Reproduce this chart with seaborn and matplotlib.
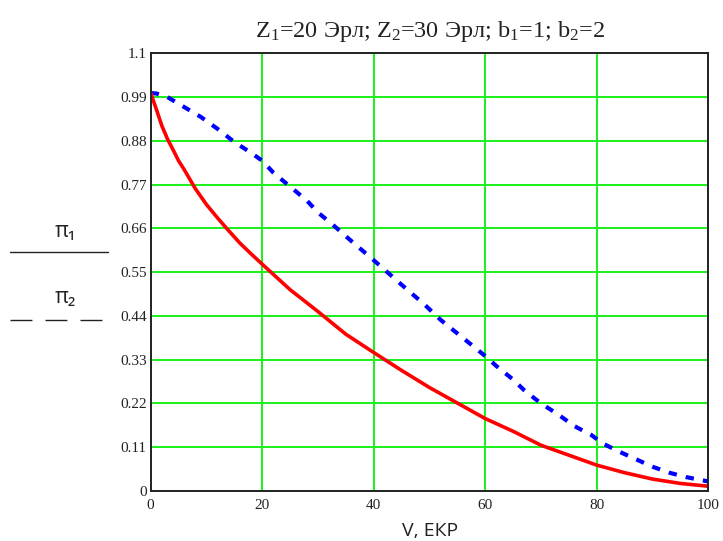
import numpy as np
import pandas as pd
import matplotlib
matplotlib.use("Agg")
import matplotlib.pyplot as plt
from matplotlib.lines import Line2D
import seaborn as sns

# Probability curves vs. number of channel units V
v_pi1 = [0, 1, 2, 3, 4, 5, 6, 8, 10, 12, 14, 16, 18, 20, 25, 30, 35, 40, 45,
         50, 55, 60, 65, 70, 75, 80, 85, 90, 95, 100]
pi1 = [1.0, 0.96, 0.918, 0.885, 0.858, 0.83, 0.808, 0.76, 0.72, 0.686, 0.654,
       0.623, 0.596, 0.57, 0.506, 0.451, 0.394, 0.348, 0.303, 0.26, 0.221,
       0.182, 0.15, 0.115, 0.09, 0.065, 0.046, 0.03, 0.019, 0.012]

v_pi2 = [0, 1, 3, 6, 9, 12, 15, 18, 20, 22, 25, 28, 30, 33, 36, 40, 43, 46, 49,
         52, 55, 58, 60, 62, 65, 67, 70, 73, 76, 79, 81, 84, 87, 90, 93, 96, 100]
pi2 = [1.0, 0.999, 0.99, 0.965, 0.94, 0.91, 0.877, 0.85, 0.83, 0.80, 0.765,
       0.73, 0.70, 0.665, 0.628, 0.58, 0.543, 0.506, 0.47, 0.43, 0.396, 0.362,
       0.339, 0.314, 0.28, 0.253, 0.22, 0.193, 0.163, 0.141, 0.12, 0.099,
       0.08, 0.061, 0.046, 0.035, 0.024]

x_ticks = [0, 20, 40, 60, 80, 100]
y_ticks = [0, 0.11, 0.22, 0.33, 0.44, 0.55, 0.66, 0.77, 0.88, 0.99, 1.1]
y_tick_labels = ["0", "0.11", "0.22", "0.33", "0.44", "0.55", "0.66", "0.77",
                 "0.88", "0.99", "1.1"]

title = r"Z$_1$=20 Эрл; Z$_2$=30 Эрл; b$_1$=1; b$_2$=2"
x_label = "V, ЕКР"

sns.set_style("white")
serif = ["Liberation Serif", "DejaVu Serif"]
sans = ["Open Sans", "DejaVu Sans"]
plt.rcParams["font.family"] = serif
plt.rcParams["mathtext.fontset"] = "custom"
plt.rcParams["mathtext.rm"] = "Liberation Serif"
plt.rcParams["mathtext.it"] = "Liberation Serif"
plt.rcParams["mathtext.default"] = "rm"

df1 = pd.DataFrame({"V": v_pi1, "p": pi1})
df2 = pd.DataFrame({"V": v_pi2, "p": pi2})

fig = plt.figure(figsize=(7.23, 5.41), dpi=100)
ax = fig.add_axes([0.2084, 0.0924, 0.7713, 0.8091])

sns.lineplot(data=df2, x="V", y="p", ax=ax, color="#0000ff", linewidth=3.0,
             linestyle=(0, (2.0, 2.2)), estimator=None, sort=False)
sns.lineplot(data=df1, x="V", y="p", ax=ax, color="#ff0000", linewidth=2.6,
             estimator=None, sort=False)

ax.set_xlim(0, 100)
ax.set_ylim(0, 1.1)
ax.set_xticks(x_ticks)
ax.set_xticklabels([str(t) for t in x_ticks])
ax.set_yticks(y_ticks)
ax.set_yticklabels(y_tick_labels)
ax.tick_params(axis="both", length=0, labelsize=11, colors="#222222")
ax.tick_params(axis="x", pad=6)
ax.tick_params(axis="y", pad=3)
ax.grid(True, color="#1af01a", linewidth=1.4)
ax.set_axisbelow(True)
for sp in ax.spines.values():
    sp.set_color("#222222")
    sp.set_linewidth(1.4)

ax.set_xlabel(x_label, fontsize=14, family=sans, color="#222222", va="center")
ax.xaxis.set_label_coords(0.501, -0.0914)
ax.set_ylabel("")

fig.text(429.5 / 723, 1 - 31 / 541, title, ha="center", va="center",
         fontsize=17.5, color="#222222")

# Left-hand legend: series names above line samples
fig.text(65 / 723, 1 - 232 / 541, "π₁", ha="center", va="center",
         fontsize=15.5, family=sans, color="#222222")
fig.add_artist(Line2D([10 / 723, 108 / 723], [1 - 252 / 541, 1 - 252 / 541],
                      color="#222222", linewidth=1.0))
fig.text(65 / 723, 1 - 297 / 541, "π₂", ha="center", va="center",
         fontsize=15.5, family=sans, color="#222222")
fig.add_artist(Line2D([10 / 723, 103 / 723], [1 - 320 / 541, 1 - 320 / 541],
                      color="#222222", linewidth=1.0,
                      linestyle=(0, (15.8, 9.4))))

fig.savefig("out.png", dpi=100)
